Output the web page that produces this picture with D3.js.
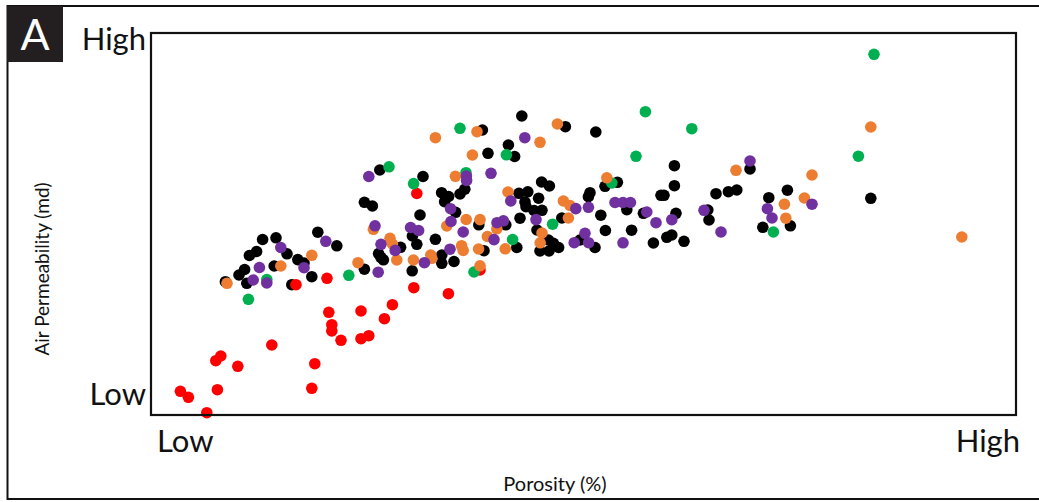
<!DOCTYPE html>
<html>
<head>
<meta charset="utf-8">
<script src="https://cdn.jsdelivr.net/npm/d3@7"></script>
<style>
  html, body { margin: 0; padding: 0; background: #fff; }
  svg { display: block; }
  text { font-family: Lato, "Open Sans", sans-serif; fill: #111; }
</style>
</head>
<body>
<svg id="chart" width="1039" height="502"></svg>
<script>
// Porosity (%) and air permeability (relative) for each sample group
const seriesNames = ["black", "red", "green", "orange", "purple"];
const seriesColors = ["#000000", "#ff0000", "#00b050", "#ed7d31", "#7030a0"];

const blackPorosity = [3.72,4.40,4.68,4.79,4.92,5.28,5.58,6.25,6.80,6.16,7.04,7.34,7.65,8.04,8.34,9.29,10.67,11.38,11.49,11.62,12.48,13.07,13.29,13.06,14.22,14.54,14.54,15.15,10.67,11.07,11.44,13.60,14.53,14.68,14.88,15.45,15.69,13.45,15.23,16.39,17.74,16.65,18.29,16.57,18.54,20.72,22.24,17.87,16.85,18.18,18.40,18.84,19.53,19.92,19.38,18.70,18.75,19.15,19.55,18.45,19.30,19.87,20.12,20.38,19.45,19.90,20.54,21.87,21.95,22.49,22.72,22.70,23.32,21.45,22.20,23.79,24.03,24.62,26.17,26.17,25.50,25.65,26.25,27.84,27.90,25.79,26.04,25.12,26.65,28.25,28.87,29.29,29.95,31.82,30.89,30.59,31.97,35.99];
const blackPerm = [13.33,14.00,14.55,13.17,15.95,16.35,17.55,17.72,16.12,14.90,13.03,15.54,15.20,13.83,18.28,16.92,14.58,16.14,15.77,15.52,16.77,17.90,17.07,14.42,17.57,16.00,15.17,15.35,21.27,20.90,24.50,23.85,22.23,21.33,21.85,22.10,22.58,20.00,20.27,19.02,19.02,16.43,16.75,28.50,29.90,28.83,28.30,27.00,26.17,25.85,22.17,22.32,23.30,22.90,21.68,21.30,20.83,20.45,20.47,19.68,18.50,17.50,17.17,16.75,16.40,16.40,19.70,21.83,22.23,19.98,18.45,22.87,23.27,17.50,16.75,20.54,18.48,20.17,24.93,22.93,21.97,21.97,20.17,20.50,19.50,17.77,18.00,17.20,17.37,22.13,22.33,22.50,24.60,22.48,21.73,18.77,18.92,21.67];

const redPorosity = [1.47,1.87,2.79,3.32,3.24,3.49,4.34,6.04,8.04,8.19,8.89,9.04,9.04,9.50,10.50,10.50,10.89,11.67,12.07,13.14,14.87,8.80,7.25,13.29,16.45];
const redPerm = [2.37,1.77,0.23,2.53,5.43,5.90,4.87,7.00,2.67,5.13,10.27,9.03,8.40,7.47,10.40,7.63,7.93,9.63,11.03,12.73,12.13,13.67,13.03,22.15,14.50];

const greenPorosity = [4.87,5.79,9.89,11.90,13.13,15.45,15.75,17.77,16.15,18.08,20.08,23.04,24.72,27.04,24.25,35.37,36.15,31.12];
const greenPerm = [11.57,13.55,13.97,24.82,23.14,28.67,24.23,26.02,14.30,17.55,19.08,23.20,30.33,28.63,25.87,25.88,36.07,18.30];

const orangePorosity = [3.80,6.49,8.04,10.35,11.12,11.95,12.07,12.29,13.12,13.99,14.04,14.79,14.22,16.30,20.32,19.45,16.07,15.22,17.85,15.76,15.53,15.61,16.45,17.29,16.82,17.71,16.38,16.45,19.55,19.46,20.62,20.95,20.87,22.79,29.25,33.05,32.67,31.67,31.74,35.99,40.54];
const orangePerm = [13.17,14.90,15.97,15.23,18.57,17.67,17.10,15.50,15.50,16.00,15.67,18.90,27.73,28.33,29.10,27.27,26.00,23.87,22.30,19.55,16.93,16.45,19.54,18.62,17.85,16.62,16.60,14.92,18.20,17.22,21.40,20.95,19.70,23.72,24.47,24.00,21.70,21.08,19.68,28.80,17.80];

const purplePorosity = [5.11,5.42,6.49,5.79,7.65,8.74,11.36,11.50,12.21,11.20,10.89,12.98,13.38,13.67,14.98,15.00,14.95,15.77,15.78,17.00,18.69,17.99,15.61,17.30,17.62,17.15,19.25,21.24,21.87,21.70,21.16,21.88,23.20,23.60,23.97,23.60,24.79,26.04,25.25,27.65,28.50,29.95,30.82,31.05,33.05];
const purplePerm = [13.50,14.75,16.75,13.20,14.73,17.37,14.28,17.07,16.46,18.92,23.85,18.75,18.45,15.23,20.63,19.35,16.58,23.90,23.45,24.17,27.73,21.40,18.30,19.23,19.42,17.54,19.54,20.64,20.77,18.17,17.23,17.23,21.25,21.25,21.25,17.22,20.30,19.53,19.23,20.47,18.30,25.40,20.63,19.70,21.08];

const xTickLabels = ["Low", "High"];
const yTickLabels = ["Low", "High"];
const xTitle = "Porosity (%)";
const yTitle = "Air Permeability (md)";
const panelLabel = "A";

const porosityDomain = [0, 43.25];
const permDomain = [0, 38.2];

const seriesData = [
  [blackPorosity, blackPerm],
  [redPorosity, redPerm],
  [greenPorosity, greenPerm],
  [orangePorosity, orangePerm],
  [purplePorosity, purplePerm]
];

const svg = d3.select("#chart");
const plot = { left: 151, top: 33, right: 1016, bottom: 415 };

const x = d3.scaleLinear().domain(porosityDomain).range([plot.left, plot.right]);
const y = d3.scaleLinear().domain(permDomain).range([plot.bottom, plot.top]);

// outer frame (open on the right)
svg.append("path")
  .attr("d", "M1039,6 H7.5 V499 H1039")
  .attr("fill", "none")
  .attr("stroke", "#111")
  .attr("stroke-width", 2);

// panel letter
svg.append("rect")
  .attr("x", 7).attr("y", 6).attr("width", 56).attr("height", 56)
  .attr("fill", "#231f20");
svg.append("text")
  .attr("x", 35).attr("y", 50)
  .attr("text-anchor", "middle")
  .style("fill", "#fff")
  .style("font-size", "43px")
  .text(panelLabel);

// points
const pts = seriesData.flatMap((s, i) =>
  s[0].map((px, j) => ({ series: i, porosity: px, perm: s[1][j] })));

svg.append("g")
  .selectAll("circle")
  .data(pts)
  .join("circle")
  .attr("cx", d => x(d.porosity))
  .attr("cy", d => y(d.perm))
  .attr("r", 5.8)
  .attr("fill", d => seriesColors[d.series]);

// plot frame
svg.append("rect")
  .attr("x", plot.left).attr("y", plot.top)
  .attr("width", plot.right - plot.left)
  .attr("height", plot.bottom - plot.top)
  .attr("fill", "none")
  .attr("stroke", "#111")
  .attr("stroke-width", 2.2);

// axis end labels
const yLab = [[yTickLabels[0], permDomain[0], 405 - y(permDomain[0])], [yTickLabels[1], permDomain[1], 50 - y(permDomain[1])]];
svg.append("g").selectAll("text")
  .data(yLab)
  .join("text")
  .attr("x", plot.left - 5)
  .attr("y", d => y(d[1]) + d[2])
  .attr("text-anchor", "end")
  .style("font-size", "31px")
  .text(d => d[0]);

svg.append("text")
  .attr("x", x(porosityDomain[0]) + 6)
  .attr("y", 452)
  .attr("text-anchor", "start")
  .style("font-size", "31px")
  .text(xTickLabels[0]);
svg.append("text")
  .attr("x", x(porosityDomain[1]) + 4)
  .attr("y", 452)
  .attr("text-anchor", "end")
  .style("font-size", "31px")
  .text(xTickLabels[1]);

// axis titles
svg.append("text")
  .attr("x", 555).attr("y", 491)
  .attr("text-anchor", "middle")
  .style("font-size", "20px")
  .text(xTitle);
svg.append("text")
  .attr("transform", "translate(49,269) rotate(-90)")
  .attr("text-anchor", "middle")
  .style("font-size", "19px")
  .text(yTitle);
</script>
</body>
</html>
